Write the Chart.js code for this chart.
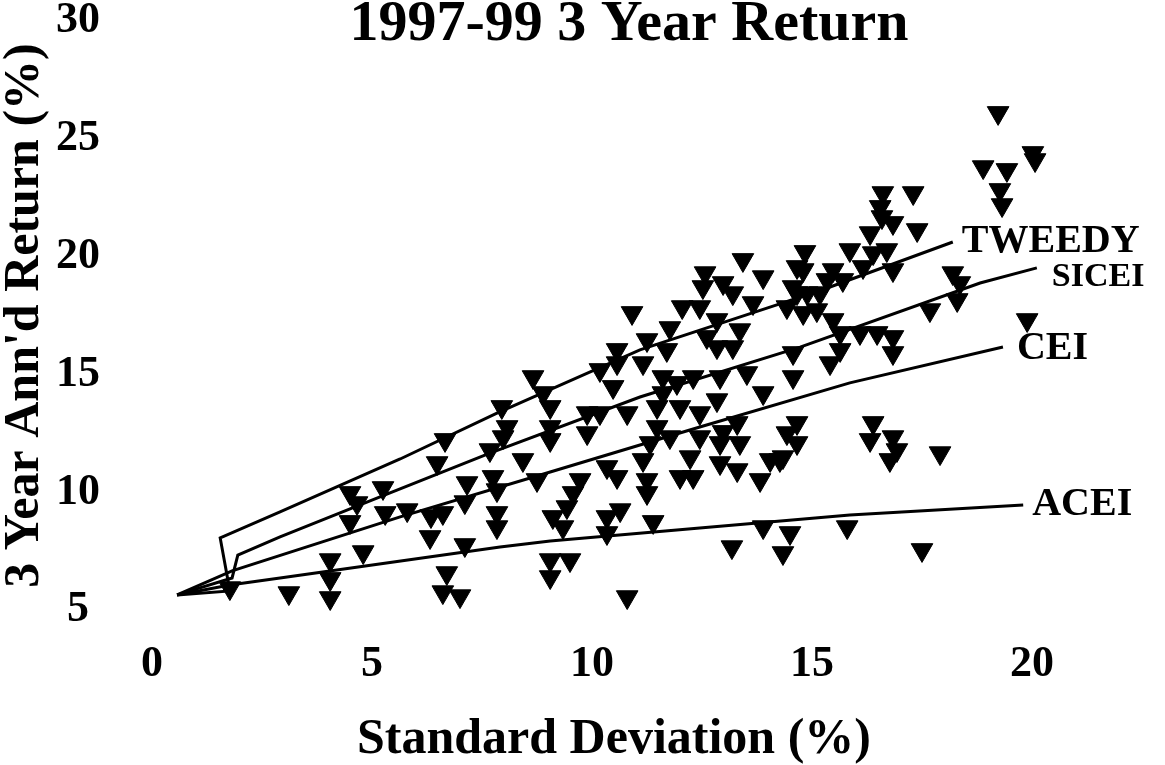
<!DOCTYPE html>
<html>
<head>
<meta charset="utf-8">
<title>1997-99 3 Year Return</title>
<script src="https://cdn.jsdelivr.net/npm/chart.js@4.4.0/dist/chart.umd.min.js"></script>
<style>
  html, body { margin: 0; padding: 0; background: #fff; }
  #wrap { width: 1165px; height: 765px; }
</style>
</head>
<body>
<div id="wrap"><canvas id="chart" width="1165" height="765"></canvas></div>
<script>
// ===============================
// Data
// ===============================
// Funds: standard deviation (%) and 3 year annualised return (%)
const fundRisk = [
  1.77, 3.11, 4.05, 4.05, 4.05, 4.80, 4.50, 4.66, 5.25, 4.50, 5.30, 5.80, 6.34, 6.61, 6.32, 6.48,
  6.66, 7.16, 7.11, 7.68, 7.75, 7.84, 7.11, 6.70, 6.61, 7.00, 7.95, 8.07, 7.98, 8.66, 8.43,
  10.91, 8.89, 9.05, 9.05, 9.05, 9.89, 10.18, 10.80, 9.89, 10.18, 10.48, 10.57, 10.57, 7.84, 7.84,
  8.75, 9.73, 9.57, 9.43, 10.34, 10.57, 9.11, 9.34, 10.34, 10.64, 10.34, 9.05, 9.50, 9.05, 10.80, 11.39,
  11.16, 11.25, 11.70, 11.77, 12.05, 11.61, 11.93, 11.48, 11.48, 11.32, 11.77, 11.16, 11.25, 11.25, 12.00,
  13.43, 12.57, 12.52, 12.98, 13.20, 13.89, 14.66, 14.66, 12.45, 13.66, 14.43, 12.84, 12.61, 13.36, 12.84,
  13.20, 12.30, 12.91, 13.52, 14.57, 14.57, 11.61, 12.84, 13.89, 12.00, 12.45, 12.45, 12.98, 13.36, 14.43,
  14.66, 12.23, 12.30, 12.91, 13.30, 13.82, 14.05, 14.27, 14.84, 14.80, 15.48, 15.34, 15.70, 14.80, 15.48,
  15.64, 15.41, 15.64, 13.30, 14.66, 13.89, 14.50, 14.34, 13.18, 15.80, 12.91,
  19.23, 20.02, 20.07, 18.89, 19.43, 19.27, 19.32, 16.61, 17.30, 16.55, 16.59, 16.84, 17.39, 16.32, 15.86,
  16.39, 16.70, 16.16, 16.84, 14.57, 14.89, 15.18, 15.11, 16.09, 16.48, 16.84, 16.84, 18.20, 18.36, 18.30,
  17.68, 19.89, 14.34, 16.39, 16.32, 16.84, 16.93, 16.77, 17.91, 17.50
];
const fundReturn = [
  5.93, 5.72, 7.12, 6.32, 5.51, 7.46, 9.97, 9.54, 10.18, 8.74, 9.12, 9.24, 8.99, 9.12, 8.10, 11.24,
  12.22, 10.39, 9.58, 11.79, 10.65, 10.09, 7.76, 6.57, 5.76, 5.59, 13.62, 12.77, 12.34, 14.89, 11.37,
  17.61, 14.21, 13.62, 12.77, 12.22, 13.36, 13.36, 13.36, 12.51, 15.19, 14.47, 16.04, 15.48, 9.12, 8.52,
  10.52, 10.52, 9.97, 9.37, 11.07, 10.65, 8.95, 8.52, 8.95, 9.24, 8.27, 7.12, 7.12, 6.40, 5.55, 8.74,
  15.48, 16.46, 16.04, 16.97, 17.86, 14.89, 14.64, 13.62, 12.77, 12.09, 12.34, 11.37, 10.52, 9.97, 10.65,
  19.86, 19.30, 18.71, 18.88, 18.45, 19.13, 19.56, 18.45, 17.86, 18.03, 17.86, 17.31, 16.59, 16.88, 16.16,
  16.16, 14.89, 14.89, 15.06, 15.91, 14.89, 14.21, 13.91, 14.21, 13.62, 13.36, 12.34, 12.56, 12.09, 12.51,
  12.94, 11.49, 10.65, 11.24, 10.94, 10.52, 11.37, 11.37, 20.20, 19.43, 19.43, 19.01, 19.01, 17.61, 17.31,
  16.76, 15.48, 16.04, 12.94, 12.09, 8.52, 8.27, 7.42, 7.67, 8.52, 12.09,
  26.10, 24.40, 24.10, 23.80, 23.68, 22.83, 22.19, 22.70, 22.70, 22.11, 21.68, 21.43, 21.13, 21.00, 20.28,
  20.15, 20.28, 19.56, 19.43, 18.71, 18.45, 18.45, 17.73, 16.76, 16.76, 16.59, 15.91, 19.30, 18.88, 18.16,
  17.73, 17.31, 11.49, 12.94, 12.22, 12.34, 11.79, 11.37, 11.66, 7.55
];

// Index frontiers
const tweedyRisk   = [0.57, 1.77, 1.55, 2.91, 5.64, 7.84, 11.09, 14.20, 15.41, 18.20];
const tweedyReturn = [5.64, 5.81, 8.06, 9.16, 11.41, 13.36, 16.04, 17.95, 18.71, 20.62];
const siceiRisk    = [0.57, 1.82, 1.95, 2.91, 5.41, 7.68, 11.09, 14.73, 18.82, 20.11];
const siceiReturn  = [5.64, 6.36, 7.33, 8.10, 9.97, 11.66, 14.04, 16.16, 18.88, 19.52];
const ceiRisk      = [0.57, 1.82, 5.64, 9.05, 12.45, 15.86, 19.34];
const ceiReturn    = [5.64, 6.66, 8.95, 10.86, 12.77, 14.64, 16.16];
const aceiRisk     = [0.57, 1.77, 2.91, 7.91, 9.05, 12.45, 15.86, 19.80];
const aceiReturn   = [5.64, 6.06, 6.36, 7.67, 7.93, 8.48, 9.03, 9.46];

// Ticks
const xTickValues = [0, 5, 10, 15, 20];
const yTickValues = [5, 10, 15, 20, 25, 30];

// ===============================
// Helpers / styles
// ===============================
const SERIF = "'Liberation Serif', 'Times New Roman', serif";
const toPoints = (xs, ys) => xs.map((x, i) => ({ x, y: ys[i] }));
const serifBold = (size) => ({ family: SERIF, size, weight: "bold", lineHeight: 1 });

const lineDataset = (label, xs, ys) => ({
  label, data: toPoints(xs, ys), showLine: true, tension: 0,
  borderColor: "#000", borderWidth: 3, pointRadius: 0, clip: false
});

// keep tick padding from growing the chart margins
const noScalePadding = s => { s.paddingTop = 0; s.paddingBottom = 0; s.paddingLeft = 0; s.paddingRight = 0; };

// Title drawn at top of canvas
const chartTitle = {
  id: "chartTitle",
  afterDraw(chart, args, opts) {
    const { ctx } = chart;
    ctx.save();
    ctx.font = `bold ${opts.size}px ${SERIF}`;
    ctx.fillStyle = "#000";
    ctx.textAlign = "center";
    ctx.textBaseline = "alphabetic";
    ctx.fillText(opts.text, opts.x, opts.y);
    ctx.restore();
  }
};

// Names at the end of each frontier line
const lineLabels = {
  id: "lineLabels",
  afterDatasetsDraw(chart, args, opts) {
    const { ctx } = chart;
    chart.data.datasets.forEach((ds, i) => {
      const st = opts.styles[ds.label];
      if (!st) return;
      const pts = chart.getDatasetMeta(i).data;
      const last = pts[pts.length - 1];
      ctx.save();
      ctx.font = `bold ${st.size}px ${SERIF}`;
      ctx.fillStyle = "#000";
      ctx.textAlign = "left";
      ctx.textBaseline = "middle";
      ctx.fillText(ds.label, last.x + st.dx, last.y + st.dy);
      ctx.restore();
    });
  }
};

new Chart(document.getElementById("chart"), {
  type: "scatter",
  data: {
    datasets: [
      lineDataset("TWEEDY", tweedyRisk, tweedyReturn),
      lineDataset("SICEI", siceiRisk, siceiReturn),
      lineDataset("CEI", ceiRisk, ceiReturn),
      lineDataset("ACEI", aceiRisk, aceiReturn),
      {
        label: "Funds", data: toPoints(fundRisk, fundReturn),
        pointStyle: "triangle", rotation: 180, pointRadius: 12.5,
        backgroundColor: "#000", borderColor: "#000", borderWidth: 1, clip: false
      }
    ]
  },
  options: {
    responsive: false,
    devicePixelRatio: 1,
    animation: false,
    events: [],
    layout: { padding: { left: 0, right: 89, top: 21, bottom: 0 } },
    scales: {
      x: {
        type: "linear", min: 0, max: 21,
        grid: { display: false, drawTicks: false },
        border: { display: false },
        afterBuildTicks: s => { s.ticks = xTickValues.map(v => ({ value: v })); },
        afterFit: s => { s.height = 155; noScalePadding(s); },
        ticks: { font: serifBold(44), color: "#000", padding: 33, maxRotation: 0, autoSkip: false },
        title: { display: true, text: "Standard Deviation (%)", font: serifBold(50), color: "#000", padding: { top: 0, bottom: 0 } }
      },
      y: {
        type: "linear", min: 5, max: 30,
        grid: { display: false, drawTicks: false },
        border: { display: false },
        afterBuildTicks: s => { s.ticks = yTickValues.map(v => ({ value: v })); },
        afterFit: s => { s.width = 152; noScalePadding(s); },
        ticks: { font: serifBold(44), color: "#000", padding: 52, crossAlign: "center", autoSkip: false },
        title: { display: true, text: "3 Year Ann'd Return (%)", font: serifBold(50), color: "#000", padding: { top: 0, bottom: 0 } }
      }
    },
    plugins: {
      legend: { display: false },
      tooltip: { enabled: false },
      chartTitle: { text: "1997-99 3 Year Return", size: 58, x: 629, y: 40 },
      lineLabels: {
        styles: {
          TWEEDY: { dx: 9, dy: 0, size: 40 },
          SICEI: { dx: 15, dy: 9, size: 34 },
          CEI: { dx: 14, dy: 2, size: 40 },
          ACEI: { dx: 9, dy: 0, size: 40 }
        }
      }
    }
  },
  plugins: [chartTitle, lineLabels]
});
</script>
</body>
</html>
